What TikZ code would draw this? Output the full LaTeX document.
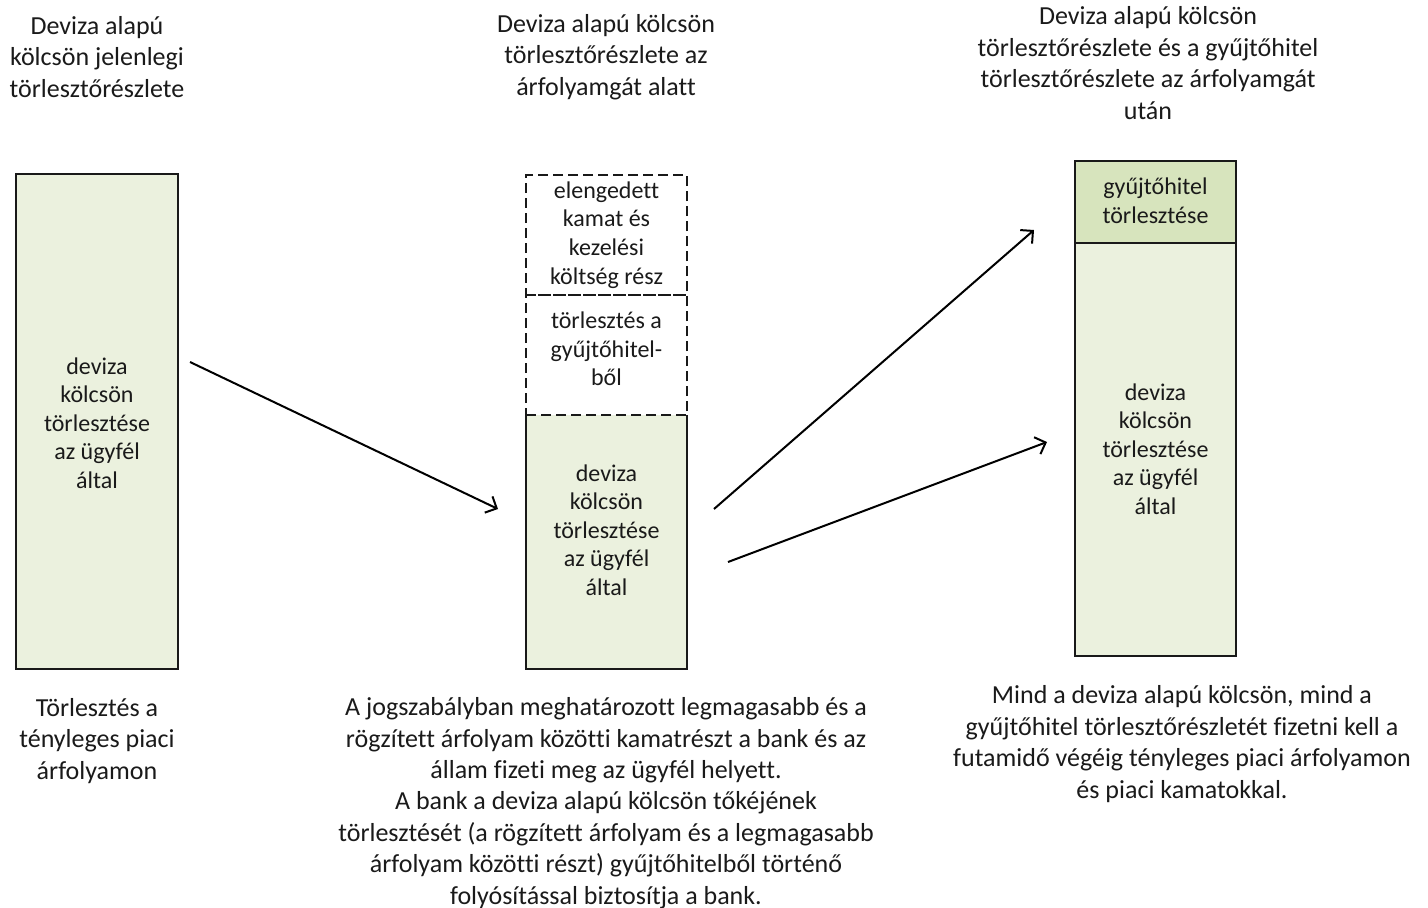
\documentclass[tikz,border=0pt]{standalone}
\usepackage{fontspec}
\setmainfont{Carlito}[Ligatures=NoCommon]
\usetikzlibrary{arrows.meta}
\definecolor{lightg}{HTML}{EBF1DE}
\definecolor{darkg}{HTML}{D7E4BD}
\definecolor{ink}{HTML}{1A1A1A}
\begin{document}
\begin{tikzpicture}[x=1pt,y=-1pt,
  txt/.style={font=\fontsize{26}{31.4}\selectfont, align=center, inner sep=0pt, text=ink},
  boxtxt/.style={font=\fontsize{24}{28.6}\selectfont, align=center, inner sep=0pt, text=ink},
  gbox/.style={draw=black!90, line width=2pt, fill=lightg, minimum width=162pt, inner sep=0pt},
  gfill/.style={fill=lightg, minimum width=161pt, inner sep=0pt},
  dbox/.style={draw=black!90, line width=2pt, dash pattern=on 10pt off 5pt, minimum width=161pt, inner sep=0pt},
  solidedge/.style={draw=black!90, line width=2pt},
  arr/.style={line width=2pt, draw=black, -{Straight Barb[length=9pt,width=18pt]}}]
\useasboundingbox (0,0) rectangle (1428,908);

% column 1
\node[txt] (h1) at (97,57) {Deviza alapú\\kölcsön jelenlegi\\törlesztőrészlete};
\node[gbox, minimum height=495pt] (b1) at (97,421.5) {};
\node[boxtxt] (t1) at (97,423) {deviza\\kölcsön\\törlesztése\\az ügyfél\\által};
\node[txt] (f1) at (97,741) {Törlesztés a\\tényleges piaci\\árfolyamon};

% column 2
\node[txt] (h2) at (606,57) {Deviza alapú kölcsön\\törlesztőrészlete az\\árfolyamgát alatt};
\node[gfill, minimum height=254pt] (b2) at (606.5,542) {};
\draw[solidedge] (b2.north west) -- (b2.south west) -- (b2.south east) -- (b2.north east);
\node[dbox, minimum height=120pt] (d1) at (606.5,235) {};
\node[dbox, minimum height=120pt] (d2) at (606.5,355) {};
\node[boxtxt] (td1) at (606.5,235) {elengedett\\kamat és\\kezelési\\költség rész};
\node[boxtxt] (td2) at (606.5,349) {törlesztés a\\gyűjtőhitel-\\ből};
\node[boxtxt] (t2) at (606.5,530) {deviza\\kölcsön\\törlesztése\\az ügyfél\\által};
\node[txt] (f2) at (606,803) {A jogszabályban meghatározott legmagasabb és a\\rögzített árfolyam közötti kamatrészt a bank és az\\állam fizeti meg az ügyfél helyett.\\A bank a deviza alapú kölcsön tőkéjének\\törlesztését (a rögzített árfolyam és a legmagasabb\\árfolyam közötti részt) gyűjtőhitelből történő\\folyósítással biztosítja a bank.};

% column 3
\node[txt] (h3) at (1148,63) {Deviza alapú kölcsön\\törlesztőrészlete és a gyűjtőhitel\\törlesztőrészlete az árfolyamgát\\után};
\node[gbox, fill=darkg, minimum width=161pt, minimum height=82pt] (b3a) at (1155.5,202) {};
\node[gbox, minimum width=161pt, minimum height=413pt] (b3b) at (1155.5,449.5) {};
\node[boxtxt] (t3a) at (1155.5,201) {gyűjtőhitel\\törlesztése};
\node[boxtxt] (t3b) at (1155.5,449) {deviza\\kölcsön\\törlesztése\\az ügyfél\\által};
\node[txt] (f3) at (1182,744) {Mind a deviza alapú kölcsön, mind a\\gyűjtőhitel törlesztőrészletét fizetni kell a\\futamidő végéig tényleges piaci árfolyamon\\és piaci kamatokkal.};

% arrows
\coordinate (a1s) at (190,362);
\coordinate (a1e) at (498,509);
\coordinate (a2s) at (714,509);
\coordinate (a2e) at (1034,230);
\coordinate (a3s) at (728,562);
\coordinate (a3e) at (1047,442);
\draw[arr] (a1s) -- (a1e);
\draw[arr] (a2s) -- (a2e);
\draw[arr] (a3s) -- (a3e);
\end{tikzpicture}
\end{document}
